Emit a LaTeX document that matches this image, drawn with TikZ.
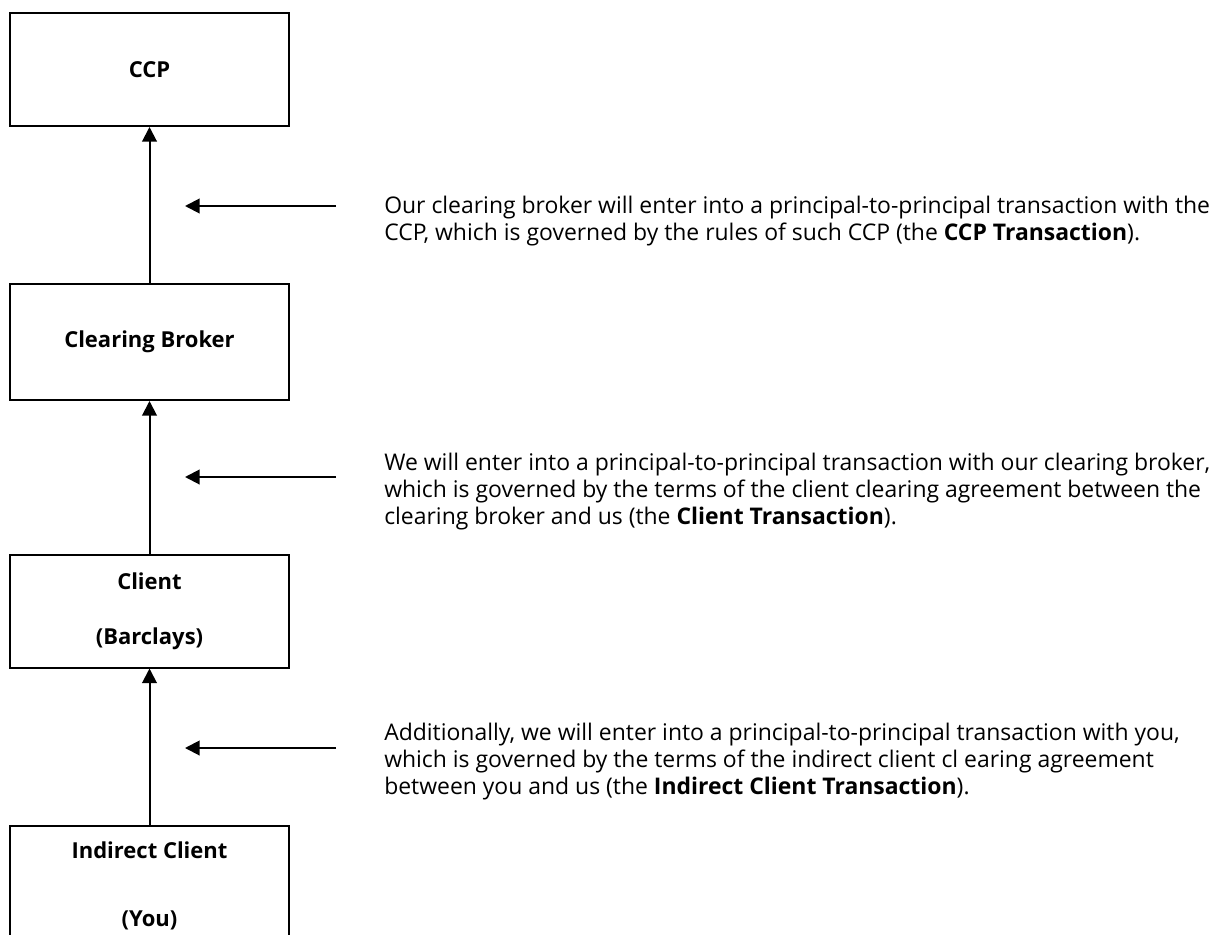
\documentclass[tikz,border=0pt]{standalone}
\usepackage{fontspec}
\setmainfont{Open Sans}
\usetikzlibrary{arrows.meta}
\usetikzlibrary{positioning}
\tikzset{
  MyBox/.style={
    rectangle, minimum width=209.25pt, minimum height=84.75pt,
    line width=1.5pt, draw=black, align=center, inner sep=0pt,
    font=\fontsize{16.5}{20}\selectfont\bfseries,
  },
  MyNote/.style={
    anchor=north west, align=left, inner sep=0pt,
    font=\fontsize{17.2}{20.25}\selectfont,
  },
  MyArrow/.style={-{Triangle[length=11pt,width=11pt]}, line width=1.5pt},
}
\begin{document}
\begin{tikzpicture}[x=0.75pt, y=-0.75pt]
\useasboundingbox (0,0) rectangle (1219,934);
\clip (0,0) rectangle (1219,934);
\node[MyBox] (CCP) at (149.5,69.5) {CCP};
\node[MyBox, minimum height=87pt] (CB) at (149.5,342) {Clearing Broker};
\node[MyBox] (CL) at (149.5,611) {Client\\[21.25pt](Barclays)};
\node[MyBox, minimum height=90pt] (IC) at (149.5,886) {Indirect Client\\[31pt](You)};
\draw[MyArrow] (CB.north) -- (CCP.south);
\draw[MyArrow] (CL.north) -- (CB.south);
\draw[MyArrow] (IC.north) -- (CL.south);
\coordinate (T1) at (336,206);
\coordinate (H1) at (185,206);
\coordinate (T2) at (336,477);
\coordinate (H2) at (185,477);
\coordinate (T3) at (336,748);
\coordinate (H3) at (185,748);
\draw[MyArrow] (T1) -- (H1);
\draw[MyArrow] (T2) -- (H2);
\draw[MyArrow] (T3) -- (H3);
\node[MyNote] (N1) at (384,196) {Our clearing broker will enter into a principal-to-principal transaction with the\\CCP, which is governed by the rules of such CCP (the \textbf{CCP Transaction}).};
\node[MyNote] (N2) at (384,453) {We will enter into a principal-to-principal transaction with our clearing broker,\\which is governed by the terms of the client clearing agreement between the\\clearing broker and us (the \textbf{Client Transaction}).};
\node[MyNote] (N3) at (384,723) {Additionally, we will enter into a principal-to-principal transaction with you,\\which is governed by the terms of the indirect client cl earing agreement\\between you and us (the \textbf{Indirect Client Transaction}).};
\end{tikzpicture}
\end{document}
